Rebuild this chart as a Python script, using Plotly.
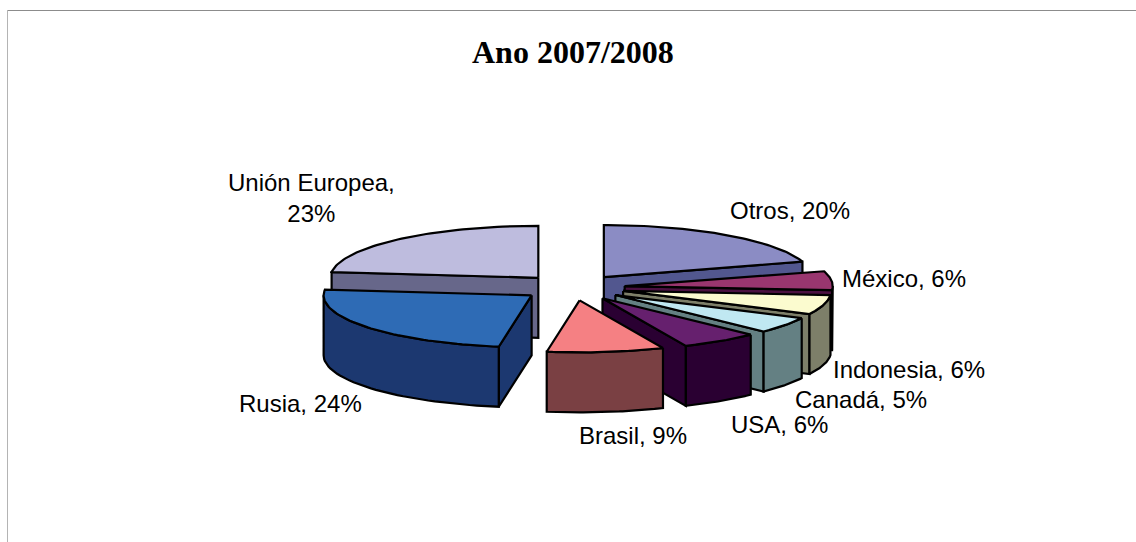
import numpy as np
import plotly.graph_objects as go

# Data, clockwise from 12 o'clock
categories = ["Otros", "México", "Indonesia", "Canadá", "USA", "Brasil", "Rusia", "Unión Europea"]
values = [20, 6, 6, 5, 6, 9, 24, 23]
top_colors = ["#8B8CC4", "#99366F", "#FBFBCF", "#C0E8F2", "#66206E", "#F58083", "#2E6BB5", "#BEBCDE"]
side_colors = ["#52578F", "#4A1040", "#7D7F69", "#648083", "#2A0032", "#7A4043", "#1C3870", "#67678A"]

# Drawing order, back to front
draw_order = ["Otros", "Unión Europea", "México", "Indonesia", "Canadá", "USA", "Brasil", "Rusia"]

# Pie projection (axis units = page pixels)
CX, CY = 573.0, 287.5
RX, RY = 208.0, 52.0
DEPTH = 60.0
EXPLODE = 0.25
LW = 2.2

# Label placement
label_pos = {
    "Otros": (790, 210), "México": (904, 278), "Indonesia": (909, 369),
    "Canadá": (861, 399), "USA": (779, 424), "Brasil": (633, 435),
    "Rusia": (300, 403), "Unión Europea": (311, 198),
}

vals = np.array(values, float)
edges = np.concatenate([[0], np.cumsum(vals)]) / vals.sum() * 360.0
slices = {c: (edges[i], edges[i + 1], top_colors[i], side_colors[i]) for i, c in enumerate(categories)}


def rim(ax, ay, deg):
    t = np.radians(deg)
    return ax + RX * np.sin(t), ay - RY * np.cos(t)


fig = go.Figure()


def face(xs, ys, color):
    fig.add_trace(go.Scatter(
        x=list(xs), y=list(ys), mode="lines", fill="toself", fillcolor=color,
        line=dict(color="black", width=LW), hoverinfo="skip", showlegend=False,
    ))


for name in draw_order:
    a0, a1, top, side = slices[name]
    mid = np.radians((a0 + a1) / 2)
    ax = CX + EXPLODE * RX * np.sin(mid)
    ay = CY - EXPLODE * RY * np.cos(mid)

    # radial wall on the clockwise end
    if a1 < 180:
        x1, y1 = rim(ax, ay, a1)
        face([ax, x1, x1, ax, ax], [ay, y1, y1 + DEPTH, ay + DEPTH, ay], side)
    # radial wall on the start
    if a0 > 180:
        x0, y0 = rim(ax, ay, a0)
        face([ax, x0, x0, ax, ax], [ay, y0, y0 + DEPTH, ay + DEPTH, ay], side)
    # curved outer wall (front half only)
    lo, hi = max(a0, 90), min(a1, 270)
    if hi > lo:
        ang = np.linspace(lo, hi, 40)
        xr, yr = rim(ax, ay, ang)
        face(np.r_[xr, xr[::-1], xr[0]], np.r_[yr, yr[::-1] + DEPTH, yr[0]], side)
    # top face
    ang = np.linspace(a0, a1, 60)
    xr, yr = rim(ax, ay, ang)
    face(np.r_[ax, xr, ax], np.r_[ay, yr, ay], top)

annotations = []
for i, name in enumerate(categories):
    sep = "<br>" if name == "Unión Europea" else " "
    x, y = label_pos[name]
    annotations.append(dict(
        x=x, y=y, xref="x", yref="y", showarrow=False,
        text=f"{name},{sep}{values[i]}%", align="center",
        font=dict(family="Liberation Sans", size=24, color="black"),
    ))
annotations.append(dict(
    x=572.5, y=51.5, xref="x", yref="y", showarrow=False, text="<b>Ano 2007/2008</b>",
    font=dict(family="Liberation Serif", size=32, color="black"),
))

fig.update_layout(
    width=1136, height=542, margin=dict(l=0, r=0, t=0, b=0),
    paper_bgcolor="white", plot_bgcolor="white", showlegend=False,
    xaxis=dict(range=[0, 1136], visible=False, fixedrange=True),
    yaxis=dict(range=[542, 0], visible=False, fixedrange=True),
    annotations=annotations,
    shapes=[
        dict(type="line", x0=7, x1=1136, y0=10.5, y1=10.5, line=dict(color="#8C8C8C", width=1)),
        dict(type="line", x0=7.5, x1=7.5, y0=10, y1=542, line=dict(color="#B4B4B4", width=1)),
    ],
)
fig.write_html("out.html", config={"displayModeBar": False},
               post_script="document.body.style.margin='0';document.body.style.overflow='hidden';")
